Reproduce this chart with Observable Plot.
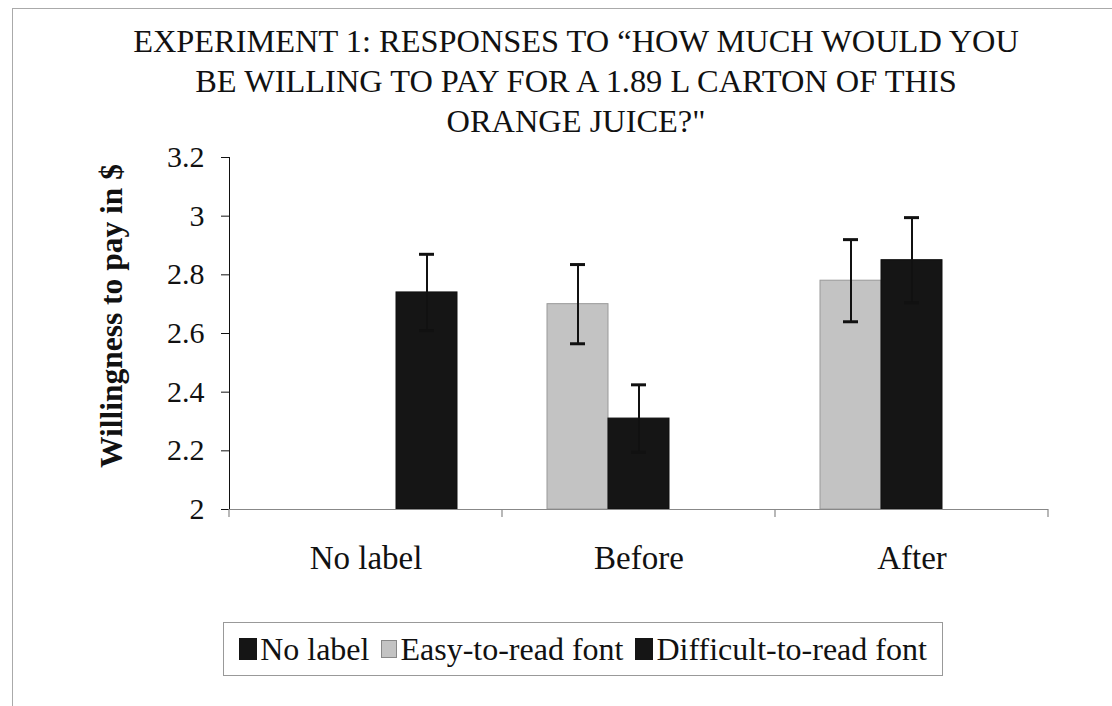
<!DOCTYPE html>
<html>
<head>
<meta charset="utf-8">
<script src="https://cdn.jsdelivr.net/npm/d3@7"></script>
<script src="https://cdn.jsdelivr.net/npm/@observablehq/plot@0.6"></script>
<style>
  html, body { margin: 0; padding: 0; background: #fff; }
  #page { position: relative; width: 1112px; height: 706px; overflow: hidden; font-family: "Liberation Serif", "Times New Roman", serif; color: #111; }
  #frame { position: absolute; left: 12px; top: 8px; width: 1110px; height: 720px; border-top: 1px solid #aaa; border-left: 1px solid #aaa; }
  #title { position: absolute; left: 40px; top: 21px; width: 1072px; text-align: center; font-size: 32.4px; line-height: 40px; }
  #ylabel { position: absolute; left: 112px; top: 316px; transform: translate(-50%, -50%) rotate(-90deg); white-space: nowrap; font-weight: bold; font-size: 31.5px; }
  #chart { position: absolute; left: 0; top: 140px; }
  #legend { position: absolute; left: 223px; top: 622px; width: 718px; height: 52px; border: 1px solid #999; display: flex; align-items: center; justify-content: center; font-size: 32px; white-space: nowrap; }
  .item { display: flex; align-items: center; margin: 0 6px; }
  .sw { display: inline-block; width: 18px; height: 22px; margin-right: 3px; box-sizing: border-box; }
  [aria-label="y-axis tick"], [aria-label="y-axis line"] { stroke: #666; }
  [aria-label="fx-axis tick label"] { font-size: 33px; }
</style>
</head>
<body>
<div id="page">
  <div id="frame"></div>
  <div id="title">EXPERIMENT 1: RESPONSES TO “HOW MUCH WOULD YOU<br>BE WILLING TO PAY FOR A 1.89 L CARTON OF THIS<br>ORANGE JUICE?"</div>
  <div id="ylabel">Willingness to pay in $</div>
  <div id="chart"></div>
  <div id="legend"></div>
</div>
<script>
// Data
const categories = ["No label", "Before", "After"];
const slotOrder = ["Easy-to-read font", "Difficult-to-read font", "No label"];
const legendOrder = ["No label", "Easy-to-read font", "Difficult-to-read font"];
const seriesColors = ["#151515", "#c3c3c3", "#151515"]; // by legendOrder
const barCategory = ["No label", "Before", "Before", "After", "After"];
const barSeries = ["No label", "Easy-to-read font", "Difficult-to-read font", "Easy-to-read font", "Difficult-to-read font"];
const means = [2.74, 2.70, 2.31, 2.78, 2.85];
const errors = [0.13, 0.135, 0.115, 0.14, 0.145];
const yTicks = [2, 2.2, 2.4, 2.6, 2.8, 3, 3.2];

const data = means.map((m, i) => ({category: barCategory[i], series: barSeries[i], mean: m, se: errors[i]}));
const colorOf = s => seriesColors[legendOrder.indexOf(s)];

const plot = Plot.plot({
  width: 1112,
  height: 439,
  marginLeft: 228,
  marginRight: 63,
  marginTop: 17,
  marginBottom: 70,
  style: {fontFamily: '"Liberation Serif", "Times New Roman", serif', fontSize: "30px", color: "#111", background: "transparent", overflow: "visible"},
  fx: {domain: categories, padding: 0, axis: "bottom", tickSize: 0, tickPadding: 36, label: null},
  x: {domain: slotOrder, paddingInner: 0, paddingOuter: 0.707, axis: null},
  y: {domain: [2, 3.2], ticks: yTicks, tickSize: 8, tickPadding: 17, tickFormat: d => String(+d.toFixed(1)), line: true, label: null},
  marks: [
    Plot.barY(data, {fx: "category", x: "series", y1: 2, y2: "mean",
      fill: d => colorOf(d.series),
      stroke: d => d.series === "Easy-to-read font" ? "#999" : "#111", strokeWidth: 1}),
    Plot.ruleY([2], {stroke: "#888", strokeWidth: 1.2}),
    Plot.ruleX(data, {fx: "category", x: "series", y1: d => d.mean - d.se, y2: d => d.mean + d.se, stroke: "#111", strokeWidth: 2}),
    Plot.tickY(data, {fx: "category", x: "series", y: d => d.mean + d.se, stroke: "#111", strokeWidth: 3, insetLeft: 23, insetRight: 23}),
    Plot.tickY(data, {fx: "category", x: "series", y: d => d.mean - d.se, stroke: "#111", strokeWidth: 3, insetLeft: 23, insetRight: 23})
  ]
});
document.getElementById("chart").appendChild(plot);

// category boundary tick marks on the x axis, from the fx scale
const fx = plot.scale("fx"), ys = plot.scale("y");
const y0 = ys.apply(2);
const bounds = categories.map(c => fx.apply(c)).concat([fx.apply(categories[categories.length - 1]) + fx.bandwidth]);
d3.select(plot).append("g").attr("aria-label", "category boundaries")
  .selectAll("line").data(bounds).join("line")
  .attr("x1", d => d).attr("x2", d => d).attr("y1", y0).attr("y2", y0 + 8)
  .attr("stroke", "#888").attr("stroke-width", 1.2);

// legend
const legend = document.getElementById("legend");
legendOrder.forEach((s, i) => {
  const item = document.createElement("span");
  item.className = "item";
  const sw = document.createElement("span");
  sw.className = "sw";
  sw.style.background = seriesColors[i];
  if (s === "Easy-to-read font") { sw.style.border = "1px solid #888"; sw.style.width = "16px"; sw.style.height = "18px"; }
  const t = document.createElement("span");
  t.textContent = s;
  item.appendChild(sw); item.appendChild(t);
  legend.appendChild(item);
});
</script>
</body>
</html>
